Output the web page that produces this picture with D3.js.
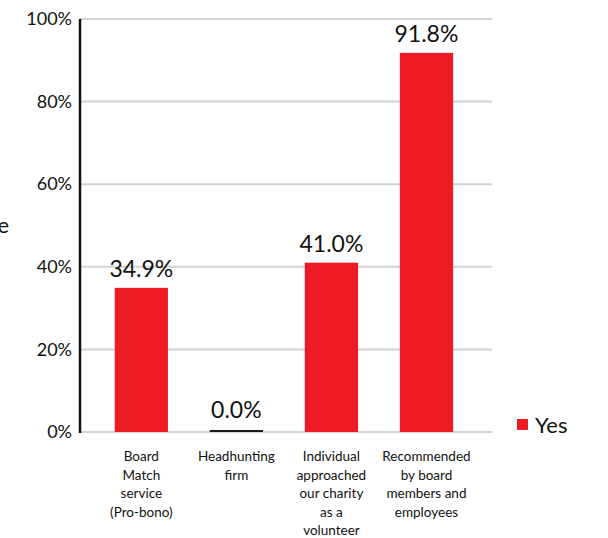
<!DOCTYPE html>
<html>
<head>
<meta charset="utf-8">
<script src="https://cdn.jsdelivr.net/npm/d3@7"></script>
<style>
  html, body { margin: 0; padding: 0; background: #fff; }
  svg { display: block; font-family: Lato, "Open Sans", sans-serif; }
</style>
</head>
<body>
<svg id="chart" width="608" height="538"></svg>
<script>
// Source of recruitment, share answering "Yes"
const categories = [
  ["Board", "Match", "service", "(Pro-bono)"],
  ["Headhunting", "firm"],
  ["Individual", "approached", "our charity", "as a", "volunteer"],
  ["Recommended", "by board", "members and", "employees"]
];
const yesValues = [34.9, 0.0, 41.0, 91.8];
const yTicks = [0, 20, 40, 60, 80, 100];
const seriesName = "Yes";
const axisTitle = "Percentage";

const svg = d3.select("#chart");
const red = "#ed1c24";

const plot = { left: 80, right: 492, top: 19, bottom: 432 };
const keys = categories.map(c => c.join(" "));

const x = d3.scaleBand()
  .domain(keys)
  .range([93.8, 474])
  .paddingInner(0.44)
  .paddingOuter(0.22);

const y = d3.scaleLinear()
  .domain([0, 100])
  .range([plot.bottom, plot.top]);

// Horizontal gridlines
svg.append("g")
  .selectAll("line")
  .data(yTicks)
  .join("line")
  .attr("x1", plot.left)
  .attr("x2", plot.right)
  .attr("y1", d => y(d))
  .attr("y2", d => y(d))
  .attr("stroke", "#d2d2d2")
  .attr("stroke-width", 2);

// Y axis labels
const yAxis = d3.axisLeft(y)
  .tickValues(yTicks)
  .tickFormat(d => d + "%")
  .tickSize(0)
  .tickPadding(8);

const yg = svg.append("g")
  .attr("transform", `translate(${plot.left},0)`)
  .call(yAxis);
yg.select(".domain").remove();
yg.selectAll("text")
  .attr("font-family", "Lato, sans-serif")
  .attr("font-size", 18)
  .attr("fill", "#111");

// Axis title (runs off the left edge)
svg.append("text")
  .attr("x", 9)
  .attr("y", 233)
  .attr("text-anchor", "end")
  .attr("font-size", 22)
  .attr("fill", "#111")
  .text(axisTitle);

// Bars
const bars = svg.append("g");
bars.selectAll("rect")
  .data(yesValues)
  .join("rect")
  .attr("x", (d, i) => x(keys[i]))
  .attr("y", d => y(d))
  .attr("width", x.bandwidth())
  .attr("height", d => y(0) - y(d))
  .attr("fill", red);

// Zero-height bars show as a dark edge along the baseline
bars.selectAll("line")
  .data(yesValues.map((v, i) => ({ v, i })).filter(d => d.v === 0))
  .join("line")
  .attr("x1", d => x(keys[d.i]))
  .attr("x2", d => x(keys[d.i]) + x.bandwidth())
  .attr("y1", d => y(d.v) - 1)
  .attr("y2", d => y(d.v) - 1)
  .attr("stroke", "#1a1a1a")
  .attr("stroke-width", 2);

// Y axis line
svg.append("line")
  .attr("x1", plot.left)
  .attr("x2", plot.left)
  .attr("y1", y(100))
  .attr("y2", y(0) + 1)
  .attr("stroke", "#111")
  .attr("stroke-width", 2.5);

// Value labels
svg.append("g")
  .selectAll("text")
  .data(yesValues)
  .join("text")
  .attr("x", (d, i) => x(keys[i]) + x.bandwidth() / 2)
  .attr("y", d => y(d) - (d === 0 ? 14 : 11))
  .attr("text-anchor", "middle")
  .attr("font-size", 23)
  .attr("fill", "#111")
  .text(d => d.toFixed(1) + "%");

// Category labels
const catG = svg.append("g");
categories.forEach((lines, i) => {
  const t = catG.append("text")
    .attr("x", x(keys[i]) + x.bandwidth() / 2)
    .attr("y", 461)
    .attr("text-anchor", "middle")
    .attr("font-size", 13.5)
    .attr("fill", "#111");
  lines.forEach((ln, j) => {
    t.append("tspan")
      .attr("x", x(keys[i]) + x.bandwidth() / 2)
      .attr("y", 461 + j * 18.5)
      .text(ln);
  });
});

// Legend
const lg = svg.append("g").attr("transform", "translate(517,419)");
lg.append("rect")
  .attr("width", 11)
  .attr("height", 11)
  .attr("fill", red);
lg.append("text")
  .attr("x", 18)
  .attr("y", 14)
  .attr("font-size", 22)
  .attr("fill", "#111")
  .text(seriesName);
</script>
</body>
</html>
